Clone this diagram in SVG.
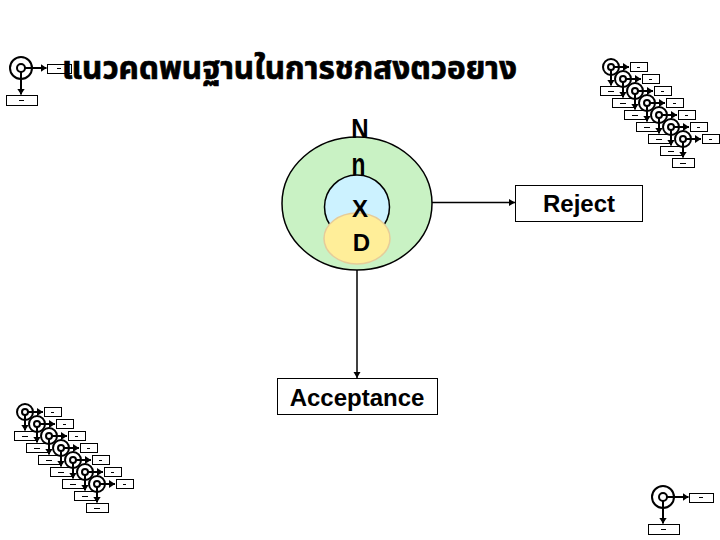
<svg xmlns="http://www.w3.org/2000/svg" width="720" height="540" viewBox="0 0 720 540">
<style>
text{font-family:"Liberation Sans",Arial,sans-serif;fill:#000;font-weight:bold}
.big{font-size:24px;text-anchor:middle}
.title{font-family:"Noto Sans Thai","Noto Sans","DejaVu Sans",sans-serif;font-size:31.5px;font-weight:bold;stroke:#000;stroke-width:.7}
.box{fill:#fff;stroke:#000;stroke-width:1}
.ln{fill:none;stroke:#000;stroke-width:1.5}
.m{fill:none;stroke:#000;stroke-width:2}
.d{fill:none;stroke:#000;stroke-width:1}
</style>
<defs>
<marker id="ah" markerWidth="8" markerHeight="8" refX="6" refY="3.5" orient="auto" markerUnits="userSpaceOnUse"><path d="M0 0L6 3.5L0 7z" fill="#000"/></marker>
<marker id="ahs" markerWidth="10" markerHeight="10" refX="6" refY="4" orient="auto" markerUnits="userSpaceOnUse"><path d="M0 0L6 4L0 8z" fill="#000"/></marker>
<g id="small">
<circle class="m" r="8" stroke-width="2.4"/><circle class="m" r="3"/>
<path class="m" d="M3 0H18" marker-end="url(#ahs)"/><path class="m" d="M0 3V18.500" marker-end="url(#ahs)"/>
<rect class="box" x="19.500" y="-4.500" width="17" height="9"/><rect class="box" x="-10.500" y="19.500" width="22" height="9"/>
<path class="d" d="M26 .5h3M-3 24.500h6"/>
</g>
<g id="large">
<circle class="m" r="11"/><circle class="m" r="4"/>
<path class="m" d="M4 0H25.500" marker-end="url(#ahs)"/><path class="m" d="M0 4V26.500" marker-end="url(#ahs)"/>
<rect class="box" x="26.500" y="-3.500" width="24" height="9"/><rect class="box" x="-14.500" y="27.500" width="31" height="10"/>
<path class="d" d="M36 .5h4M-2 32.500h5"/>
</g>
</defs>
<g id="node-population">
<ellipse cx="357" cy="203.500" rx="75" ry="66.500" fill="#c9f2c4" stroke="#000" stroke-width="1.500"/>
<ellipse cx="357" cy="207" rx="32.500" ry="32" fill="#ccf2ff" stroke="#000" stroke-width="1.500"/>
<ellipse cx="357" cy="238.500" rx="33" ry="25.500" fill="#ffee99" stroke="#e6cc99" stroke-width="1.500"/>
<text class="big" transform="translate(360 137.500) scale(1 1.16)">N</text>
<text class="big" transform="translate(358.500 175) scale(.95 1.3)">n</text>
<text class="big" x="360" y="217">X</text>
<text class="big" x="361.500" y="250.500">D</text>
</g>
<g id="connectors">
<path class="ln" d="M432 202.500H515" marker-end="url(#ah)"/>
<path class="ln" d="M357 270V378" marker-end="url(#ah)"/>
</g>
<g id="node-reject"><rect class="box" x="515.500" y="185.500" width="127" height="36"/><text class="big" x="579" y="212">Reject</text></g>
<g id="node-acceptance"><rect class="box" x="277.500" y="378.500" width="160" height="36"/><text class="big" x="357" y="406">Acceptance</text></g>
<g id="node-tl"><use href="#large" x="21" y="68"/></g>
<g id="node-br"><use href="#large" x="663" y="497"/></g>
<g id="node-tr">
<use href="#small" x="611" y="67"/><use href="#small" x="623" y="79"/><use href="#small" x="635" y="91"/><use href="#small" x="647" y="103"/><use href="#small" x="659" y="115"/><use href="#small" x="671" y="127"/><use href="#small" x="683" y="139"/>
</g>
<g id="node-bl">
<use href="#small" x="25" y="412"/><use href="#small" x="37" y="424"/><use href="#small" x="49" y="436"/><use href="#small" x="61" y="448"/><use href="#small" x="73" y="460"/><use href="#small" x="85" y="472"/><use href="#small" x="97" y="484"/>
</g>
<g id="title"><text class="title" x="62" y="79">แนวคดพนฐานในการชกสงตวอยาง</text></g>
</svg>
